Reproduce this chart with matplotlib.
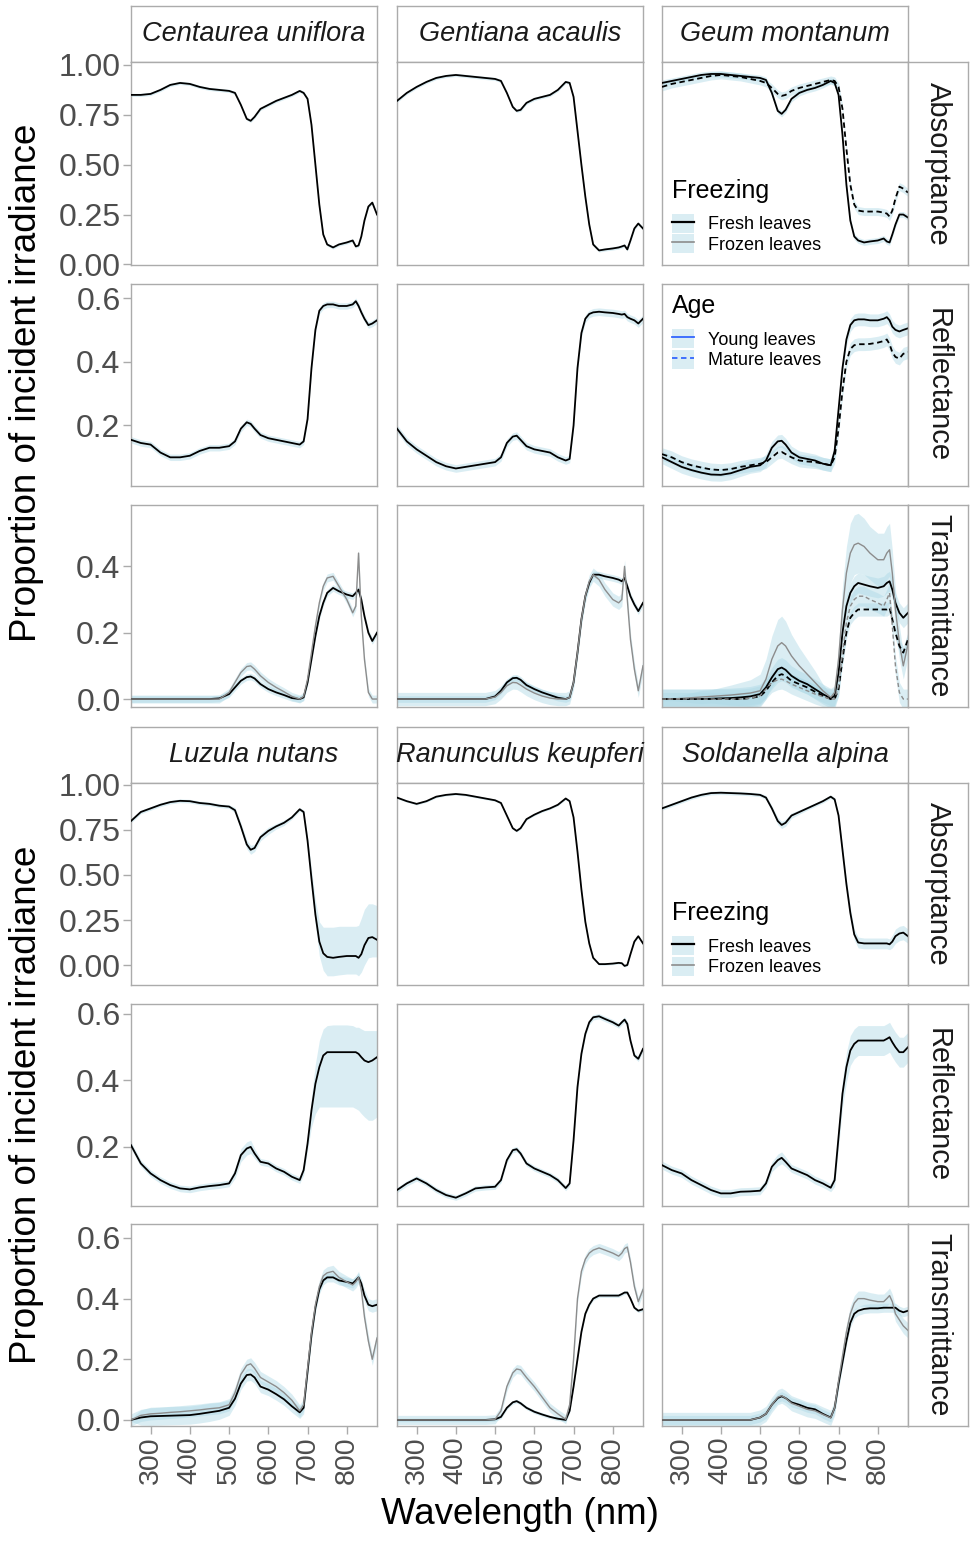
import matplotlib.pyplot as plt
from matplotlib.patches import Patch
from matplotlib.lines import Line2D
from matplotlib.legend_handler import HandlerTuple

plt.rcParams['font.family'] = ['Liberation Sans', 'DejaVu Sans']

# ---- data ----
wavelength = [250, 275, 300, 325, 350, 375, 400, 425, 450, 475,
              500, 515, 530, 545, 555, 565, 580, 600, 620, 640,
              660, 680, 690, 700, 710, 720, 730, 740, 750, 765,
              780, 800, 815, 823, 830, 837, 845, 855, 865, 877]

species = ["Centaurea uniflora", "Gentiana acaulis", "Geum montanum",
           "Luzula nutans", "Ranunculus keupferi", "Soldanella alpina"]
quantities = ["Absorptance", "Reflectance", "Transmittance"]

centaurea_abs = [.85, .85, .855, .875, .90, .91, .905, .89, .88, .875,
                 .87, .86, .80, .73, .72, .74, .78, .80, .82, .835,
                 .85, .87, .86, .83, .70, .50, .30, .15, .10, .085,
                 .10, .11, .12, .09, .095, .14, .22, .29, .31, .25]
centaurea_refl = [.155, .145, .14, .115, .10, .10, .105, .12, .13, .13,
                  .135, .15, .19, .21, .205, .19, .17, .16, .155, .15,
                  .145, .14, .15, .22, .38, .50, .56, .575, .58, .58,
                  .575, .575, .58, .59, .575, .555, .535, .515, .52, .53]
centaurea_trans_fresh = [0, 0, 0, 0, 0, 0, 0, 0, 0, .002,
                         .015, .035, .055, .066, .068, .062, .045, .03, .02, .012,
                         .003, 0, .005, .05, .12, .19, .25, .29, .32, .335,
                         .325, .315, .31, .32, .33, .30, .25, .20, .175, .20]
centaurea_trans_frozen = [0, 0, 0, 0, 0, 0, 0, 0, 0, 0,
                          .02, .05, .08, .098, .10, .09, .07, .05, .035, .022,
                          .008, 0, .008, .06, .14, .22, .29, .34, .365, .37,
                          .34, .30, .26, .28, .44, .25, .12, .02, 0, 0]

gentiana_abs = [.82, .86, .89, .915, .935, .945, .95, .945, .94, .935,
                .93, .92, .86, .79, .77, .775, .81, .83, .84, .85,
                .875, .915, .91, .84, .67, .50, .34, .20, .10, .07,
                .075, .08, .085, .09, .095, .075, .12, .18, .205, .18]
gentiana_refl = [.19, .15, .125, .105, .085, .072, .065, .07, .075, .08,
                 .085, .10, .145, .165, .168, .155, .135, .125, .12, .115,
                 .10, .09, .095, .20, .38, .49, .535, .55, .555, .557,
                 .555, .553, .55, .548, .55, .54, .535, .53, .52, .535]
gentiana_trans_fresh = [0, 0, 0, 0, 0, 0, 0, 0, 0, 0,
                        .008, .025, .05, .063, .064, .058, .042, .03, .02, .012,
                        .004, 0, .005, .05, .14, .24, .31, .35, .375, .375,
                        .37, .365, .36, .355, .365, .34, .31, .285, .265, .29]
gentiana_trans_frozen = [0, 0, 0, 0, 0, 0, 0, 0, 0, 0,
                         .006, .02, .04, .05, .049, .042, .03, .018, .009, .003,
                         0, 0, .005, .05, .14, .24, .31, .355, .375, .36,
                         .33, .30, .29, .30, .40, .30, .18, .09, .025, .10]

geum_abs_young = [.91, .92, .93, .94, .95, .955, .955, .95, .945, .94,
                  .935, .925, .86, .77, .755, .775, .83, .86, .875, .885,
                  .90, .92, .91, .85, .65, .40, .22, .14, .12, .11,
                  .115, .12, .13, .115, .11, .15, .20, .25, .25, .235]
geum_abs_mature = [.89, .905, .915, .925, .935, .945, .95, .945, .94, .93,
                   .92, .91, .885, .855, .845, .85, .87, .885, .895, .905,
                   .915, .925, .92, .89, .78, .58, .40, .30, .27, .265,
                   .265, .265, .26, .255, .24, .27, .33, .39, .38, .36]
geum_refl_young = [.10, .085, .07, .06, .052, .046, .045, .05, .06, .07,
                   .075, .09, .13, .15, .152, .14, .115, .10, .095, .09,
                   .08, .075, .12, .25, .38, .47, .515, .53, .533, .533,
                   .53, .53, .535, .54, .53, .51, .50, .495, .50, .505]
geum_refl_mature = [.11, .10, .085, .075, .068, .062, .06, .063, .07, .075,
                    .08, .085, .10, .115, .117, .11, .10, .09, .087, .085,
                    .08, .075, .10, .19, .31, .40, .44, .452, .455, .455,
                    .456, .46, .465, .47, .455, .43, .415, .41, .425, .43]
geum_trans_young_fresh = [0, 0, 0, 0, 0, .001, .002, .003, .005, .008,
                          .015, .035, .065, .09, .095, .088, .07, .055, .045, .03,
                          .015, .002, .01, .08, .20, .28, .32, .34, .35, .345,
                          .34, .335, .34, .35, .355, .33, .29, .26, .245, .26]
geum_trans_young_frozen = [0, 0, .002, .004, .006, .008, .01, .012, .015, .018,
                           .025, .06, .12, .16, .17, .16, .13, .10, .075, .05,
                           .025, .005, .02, .12, .27, .38, .44, .465, .47, .46,
                           .44, .42, .42, .44, .45, .38, .27, .17, .10, .165]
geum_trans_young_frozen_sd = [.005, .005, .01, .015, .02, .02, .025, .03, .035, .04,
                              .05, .06, .07, .08, .08, .075, .065, .055, .045, .035,
                              .02, .01, .015, .04, .07, .08, .09, .09, .09, .085,
                              .08, .08, .08, .08, .08, .07, .06, .05, .04, .04]
geum_trans_mature_fresh = [0, 0, 0, 0, 0, 0, 0, 0, 0, .003,
                           .008, .025, .05, .07, .075, .07, .055, .045, .035, .022,
                           .01, 0, 0, .03, .12, .20, .245, .26, .27, .27,
                           .27, .27, .27, .27, .275, .24, .20, .16, .14, .18]
geum_trans_mature_frozen = [0, 0, 0, 0, 0, 0, 0, 0, 0, .003,
                            .01, .03, .05, .058, .06, .055, .045, .035, .025, .015,
                            .007, 0, 0, .04, .14, .23, .28, .30, .31, .31,
                            .30, .29, .28, .30, .32, .22, .10, .02, 0, 0]

luzula_abs = [.80, .85, .87, .89, .905, .912, .91, .90, .895, .885,
              .88, .86, .77, .67, .64, .65, .71, .745, .77, .79,
              .82, .865, .85, .69, .48, .28, .13, .065, .045, .04,
              .045, .05, .05, .05, .04, .06, .11, .15, .155, .14]
luzula_abs_low = [.79, .84, .86, .88, .895, .902, .90, .89, .885, .875,
                  .87, .845, .75, .645, .615, .63, .69, .725, .755, .775,
                  .81, .855, .84, .67, .44, .22, .05, -.03, -.06, -.06,
                  -.055, -.05, -.05, -.05, -.06, -.04, 0, .04, .045, .045]
luzula_abs_high = [.81, .86, .88, .90, .915, .922, .92, .91, .905, .895,
                   .89, .875, .79, .695, .665, .67, .73, .765, .785, .805,
                   .83, .875, .86, .71, .53, .36, .24, .21, .21, .21,
                   .215, .215, .215, .215, .22, .26, .31, .34, .34, .33]
luzula_refl = [.205, .15, .12, .10, .085, .075, .072, .078, .082, .085,
               .09, .12, .175, .195, .20, .18, .155, .15, .135, .125,
               .11, .10, .13, .21, .31, .39, .44, .475, .485, .485,
               .485, .485, .485, .485, .48, .47, .46, .455, .46, .47]
luzula_refl_low = [.195, .14, .11, .09, .075, .065, .062, .068, .072, .075,
                   .08, .105, .155, .175, .18, .165, .145, .14, .125, .115,
                   .10, .09, .115, .19, .26, .30, .32, .32, .32, .32,
                   .32, .32, .32, .315, .31, .30, .29, .28, .28, .29]
luzula_refl_high = [.215, .16, .13, .11, .095, .085, .082, .088, .092, .095,
                    .10, .135, .195, .215, .22, .195, .165, .16, .145, .135,
                    .12, .11, .145, .23, .35, .45, .52, .555, .565, .567,
                    .567, .567, .565, .56, .56, .555, .55, .55, .55, .55]
luzula_trans_fresh = [0, .008, .012, .013, .014, .015, .016, .02, .025, .03,
                      .04, .07, .12, .148, .15, .14, .11, .10, .085, .068,
                      .045, .025, .04, .16, .28, .37, .43, .46, .47, .47,
                      .46, .455, .45, .46, .47, .45, .41, .38, .375, .38]
luzula_trans_fresh_sd = [.005, .025, .03, .03, .03, .03, .03, .03, .03, .028,
                         .025, .022, .02, .02, .02, .02, .02, .02, .02, .02,
                         .02, .02, .02, .02, .02, .015, .015, .015, .015, .015,
                         .015, .015, .015, .015, .015, .015, .02, .02, .02, .02]
luzula_trans_frozen = [0, .015, .02, .022, .025, .027, .03, .033, .037, .04,
                       .05, .09, .15, .18, .185, .17, .14, .125, .11, .09,
                       .065, .03, .05, .17, .29, .38, .44, .475, .485, .49,
                       .47, .455, .445, .455, .47, .43, .34, .26, .20, .27]

ranunculus_abs = [.93, .91, .895, .91, .935, .945, .95, .945, .935, .925,
                  .915, .90, .83, .76, .745, .76, .81, .835, .855, .87,
                  .89, .925, .91, .82, .63, .42, .24, .12, .04, .005,
                  .005, .008, .012, .01, -.005, 0, .06, .13, .16, .12]
ranunculus_refl = [.07, .09, .105, .09, .07, .055, .047, .06, .075, .078,
                   .08, .10, .16, .19, .193, .18, .15, .135, .125, .115,
                   .10, .076, .09, .22, .38, .48, .54, .575, .59, .593,
                   .585, .575, .565, .575, .583, .57, .52, .475, .465, .495]
ranunculus_trans_fresh = [0, 0, 0, 0, 0, 0, 0, 0, 0, 0,
                          .002, .01, .04, .058, .062, .055, .04, .027, .018, .01,
                          .004, 0, .03, .11, .20, .29, .35, .38, .40, .41,
                          .41, .41, .41, .415, .42, .42, .40, .37, .36, .365]
ranunculus_trans_frozen = [0, 0, 0, 0, 0, 0, 0, 0, 0, 0,
                           .002, .03, .11, .155, .168, .165, .14, .11, .075, .04,
                           .02, .002, .05, .20, .40, .49, .53, .55, .56, .567,
                           .56, .55, .54, .55, .565, .57, .52, .44, .39, .43]

soldanella_abs = [.87, .89, .91, .93, .945, .955, .957, .955, .953, .95,
                  .945, .93, .87, .80, .778, .79, .83, .85, .87, .89,
                  .91, .935, .92, .83, .64, .45, .29, .17, .125, .12,
                  .12, .12, .12, .12, .115, .13, .16, .175, .18, .16]
soldanella_abs_sd = [.01, .01, .01, .01, .01, .01, .01, .01, .01, .01,
                     .01, .012, .015, .02, .02, .02, .015, .012, .01, .01,
                     .01, .01, .01, .015, .02, .025, .03, .03, .03, .03,
                     .03, .03, .03, .03, .03, .035, .04, .04, .04, .04]
soldanella_refl = [.145, .13, .12, .10, .085, .07, .06, .06, .065, .066,
                   .068, .09, .14, .16, .167, .155, .135, .125, .115, .10,
                   .09, .077, .10, .23, .36, .44, .49, .51, .52, .52,
                   .52, .52, .52, .525, .53, .515, .50, .485, .485, .50]
soldanella_refl_sd = [.012, .012, .012, .012, .012, .012, .012, .012, .012, .012,
                      .012, .012, .015, .018, .018, .015, .012, .012, .012, .012,
                      .012, .012, .02, .03, .04, .045, .045, .045, .045, .045,
                      .045, .045, .045, .045, .045, .045, .045, .045, .045, .045]
soldanella_trans_fresh = [0, 0, 0, 0, 0, 0, 0, 0, 0, 0,
                          .008, .02, .05, .072, .078, .072, .058, .05, .04, .035,
                          .02, .008, .04, .12, .19, .26, .32, .35, .36, .366,
                          .368, .368, .37, .37, .37, .37, .37, .36, .355, .36]
soldanella_trans_frozen = [0, 0, 0, 0, 0, 0, 0, 0, 0, 0,
                           .008, .02, .05, .075, .08, .072, .055, .045, .035, .03,
                           .018, .007, .04, .13, .21, .29, .35, .385, .40, .40,
                           .395, .39, .39, .40, .41, .39, .35, .33, .31, .295]

# ---- styles ----
FRESH = "black"
FROZEN = "#8c8c8c"
RIBBON = (0.68, 0.85, 0.90, 0.45)
SOLID = "-"
DASHED = (0, (3, 2))

# (values, band, colour, linestyle); band is a half-width, a list of
# half-widths, or a (low, high) pair of lists
spectra = {
    ("Centaurea uniflora", "Absorptance"): [(centaurea_abs, .008, FRESH, SOLID)],
    ("Centaurea uniflora", "Reflectance"): [(centaurea_refl, .01, FRESH, SOLID)],
    ("Centaurea uniflora", "Transmittance"): [(centaurea_trans_fresh, .01, FRESH, SOLID),
                                              (centaurea_trans_frozen, .012, FROZEN, SOLID)],
    ("Gentiana acaulis", "Absorptance"): [(gentiana_abs, .008, FRESH, SOLID)],
    ("Gentiana acaulis", "Reflectance"): [(gentiana_refl, .012, FRESH, SOLID)],
    ("Gentiana acaulis", "Transmittance"): [(gentiana_trans_fresh, .01, FRESH, SOLID),
                                            (gentiana_trans_frozen, .02, FROZEN, SOLID)],
    ("Geum montanum", "Absorptance"): [(geum_abs_young, .015, FRESH, SOLID),
                                       (geum_abs_mature, .02, FRESH, DASHED)],
    ("Geum montanum", "Reflectance"): [(geum_refl_young, .02, FRESH, SOLID),
                                       (geum_refl_mature, .02, FRESH, DASHED)],
    ("Geum montanum", "Transmittance"): [(geum_trans_young_fresh, .03, FRESH, SOLID),
                                         (geum_trans_young_frozen, geum_trans_young_frozen_sd, FROZEN, SOLID),
                                         (geum_trans_mature_fresh, .02, FRESH, DASHED),
                                         (geum_trans_mature_frozen, .03, FROZEN, DASHED)],
    ("Luzula nutans", "Absorptance"): [(luzula_abs, (luzula_abs_low, luzula_abs_high), FRESH, SOLID)],
    ("Luzula nutans", "Reflectance"): [(luzula_refl, (luzula_refl_low, luzula_refl_high), FRESH, SOLID)],
    ("Luzula nutans", "Transmittance"): [(luzula_trans_fresh, luzula_trans_fresh_sd, FRESH, SOLID),
                                         (luzula_trans_frozen, .02, FROZEN, SOLID)],
    ("Ranunculus keupferi", "Absorptance"): [(ranunculus_abs, .006, FRESH, SOLID)],
    ("Ranunculus keupferi", "Reflectance"): [(ranunculus_refl, .008, FRESH, SOLID)],
    ("Ranunculus keupferi", "Transmittance"): [(ranunculus_trans_fresh, .006, FRESH, SOLID),
                                               (ranunculus_trans_frozen, .015, FROZEN, SOLID)],
    ("Soldanella alpina", "Absorptance"): [(soldanella_abs, soldanella_abs_sd, FRESH, SOLID)],
    ("Soldanella alpina", "Reflectance"): [(soldanella_refl, soldanella_refl_sd, FRESH, SOLID)],
    ("Soldanella alpina", "Transmittance"): [(soldanella_trans_fresh, .015, FRESH, SOLID),
                                             (soldanella_trans_frozen, .025, FROZEN, SOLID)],
}

# ---- layout (pixels) ----
W, H = 973, 1543
BORDER = "#ababab"
TICKTXT = "#4d4d4d"
col_x = [(131, 377), (397, 643), (662, 908)]
strip_right = (908, 968)
blocks = [
    {"species": species[:3], "strip": (6, 62),
     "rows": [(62, 265), (284, 486), (505, 707)],
     "ylim": [(-0.003, 1.015), (0.01, 0.644), (-0.024, 0.585)],
     "yticks": [[0, .25, .5, .75, 1], [.2, .4, .6], [0, .2, .4]]},
    {"species": species[3:], "strip": (727, 783),
     "rows": [(783, 985), (1004, 1206), (1224, 1426)],
     "ylim": [(-0.111, 1.011), (0.022, 0.63), (-0.02, 0.646)],
     "yticks": [[0, .25, .5, .75, 1], [.2, .4, .6], [0, .2, .4, .6]]},
]


def fig_box(x0, y0, x1, y1):
    return [x0 / W, 1 - y1 / H, (x1 - x0) / W, (y1 - y0) / H]


def style_box(ax):
    for s in ax.spines.values():
        s.set_color(BORDER)
        s.set_linewidth(1.0)


def band_limits(vals, band):
    if isinstance(band, tuple):
        return band
    if isinstance(band, list):
        return ([v - s for v, s in zip(vals, band)], [v + s for v, s in zip(vals, band)])
    return ([v - band for v in vals], [v + band for v in vals])


fig = plt.figure(figsize=(W / 100, H / 100), dpi=100)
panels = {}

for b, blk in enumerate(blocks):
    for c, sp in enumerate(blk["species"]):
        x0, x1 = col_x[c]
        # top strip
        sax = fig.add_axes(fig_box(x0, blk["strip"][0], x1, blk["strip"][1]))
        sax.set_xticks([]); sax.set_yticks([])
        style_box(sax)
        sax.text(0.5, 0.5, sp, style="italic", fontsize=19.5, color="#1a1a1a",
                 ha="center", va="center", transform=sax.transAxes)
        for r, q in enumerate(quantities):
            y0, y1 = blk["rows"][r]
            ax = fig.add_axes(fig_box(x0, y0, x1, y1))
            style_box(ax)
            for vals, band, colour, ls in spectra[(sp, q)]:
                lo, hi = band_limits(vals, band)
                ax.fill_between(wavelength, lo, hi, color=RIBBON, lw=0, zorder=1)
            for vals, band, colour, ls in spectra[(sp, q)]:
                ax.plot(wavelength, vals, color=colour, ls=ls,
                        lw=1.3 if colour == FRESH else 1.0, zorder=3)
            ax.set_xlim(250, 877)
            ax.set_ylim(*blk["ylim"][r])
            ticks = blk["yticks"][r]
            ax.set_yticks(ticks)
            fmt = "{:.2f}" if q == "Absorptance" else "{:.1f}"
            ax.set_yticklabels([fmt.format(t) for t in ticks])
            ax.tick_params(axis="both", colors=BORDER, labelcolor=TICKTXT,
                           length=6, width=1.0, pad=1.5)
            ax.tick_params(axis="y", labelsize=23)
            ax.tick_params(axis="x", labelsize=20.5)
            if c != 0:
                ax.tick_params(axis="y", left=False, labelleft=False)
            if b == 1 and r == 2:
                ax.set_xticks([300, 400, 500, 600, 700, 800])
                ax.set_xticklabels(["300", "400", "500", "600", "700", "800"], rotation=90)
            else:
                ax.set_xticks([])
            panels[(b, c, r)] = ax
            if c == 2:
                rax = fig.add_axes(fig_box(strip_right[0], y0, strip_right[1], y1))
                rax.set_xticks([]); rax.set_yticks([])
                style_box(rax)
                rax.text(0.5, 0.5, q, rotation=-90, fontsize=21, color="#1a1a1a",
                         ha="center", va="center", transform=rax.transAxes)

# ---- legends ----
freeze_handles = [(Patch(facecolor=RIBBON, edgecolor="none"), Line2D([], [], color=FRESH, lw=1.6)),
                  (Patch(facecolor=RIBBON, edgecolor="none"), Line2D([], [], color=FROZEN, lw=1.2))]
age_handles = [(Patch(facecolor=RIBBON, edgecolor="none"), Line2D([], [], color="#3366ff", lw=1.3)),
               (Patch(facecolor=RIBBON, edgecolor="none"), Line2D([], [], color="#3366ff", lw=1.3, ls=DASHED))]
leg_kw = dict(loc="upper left", frameon=False, fontsize=13, title_fontsize=18,
              alignment="left", handlelength=1.25, handleheight=1.25, labelspacing=0.05,
              handletextpad=0.75, borderpad=0, borderaxespad=0,
              handler_map={tuple: HandlerTuple(ndivide=1, pad=0)})

legends = [
    panels[(0, 2, 0)].legend(freeze_handles, ["Fresh leaves", "Frozen leaves"], title="Freezing",
                             bbox_to_anchor=(0.04, 0.425), **leg_kw),
    panels[(0, 2, 1)].legend(age_handles, ["Young leaves", "Mature leaves"], title="Age",
                             bbox_to_anchor=(0.04, 0.95), **leg_kw),
    panels[(1, 2, 0)].legend(freeze_handles, ["Fresh leaves", "Frozen leaves"], title="Freezing",
                             bbox_to_anchor=(0.04, 0.415), **leg_kw),
]
for leg in legends:
    leg._legend_box.sep = 8

# ---- axis titles ----
fig.text(27 / W, 1 - 383 / H, "Proportion of incident irradiance", rotation=90,
         fontsize=26.5, ha="center", va="center")
fig.text(27 / W, 1 - 1105 / H, "Proportion of incident irradiance", rotation=90,
         fontsize=26.5, ha="center", va="center")
fig.text(520 / W, 1 - 1515 / H, "Wavelength (nm)", fontsize=26.5, ha="center", va="center")

fig.savefig("out.png", dpi=100, facecolor="white")
